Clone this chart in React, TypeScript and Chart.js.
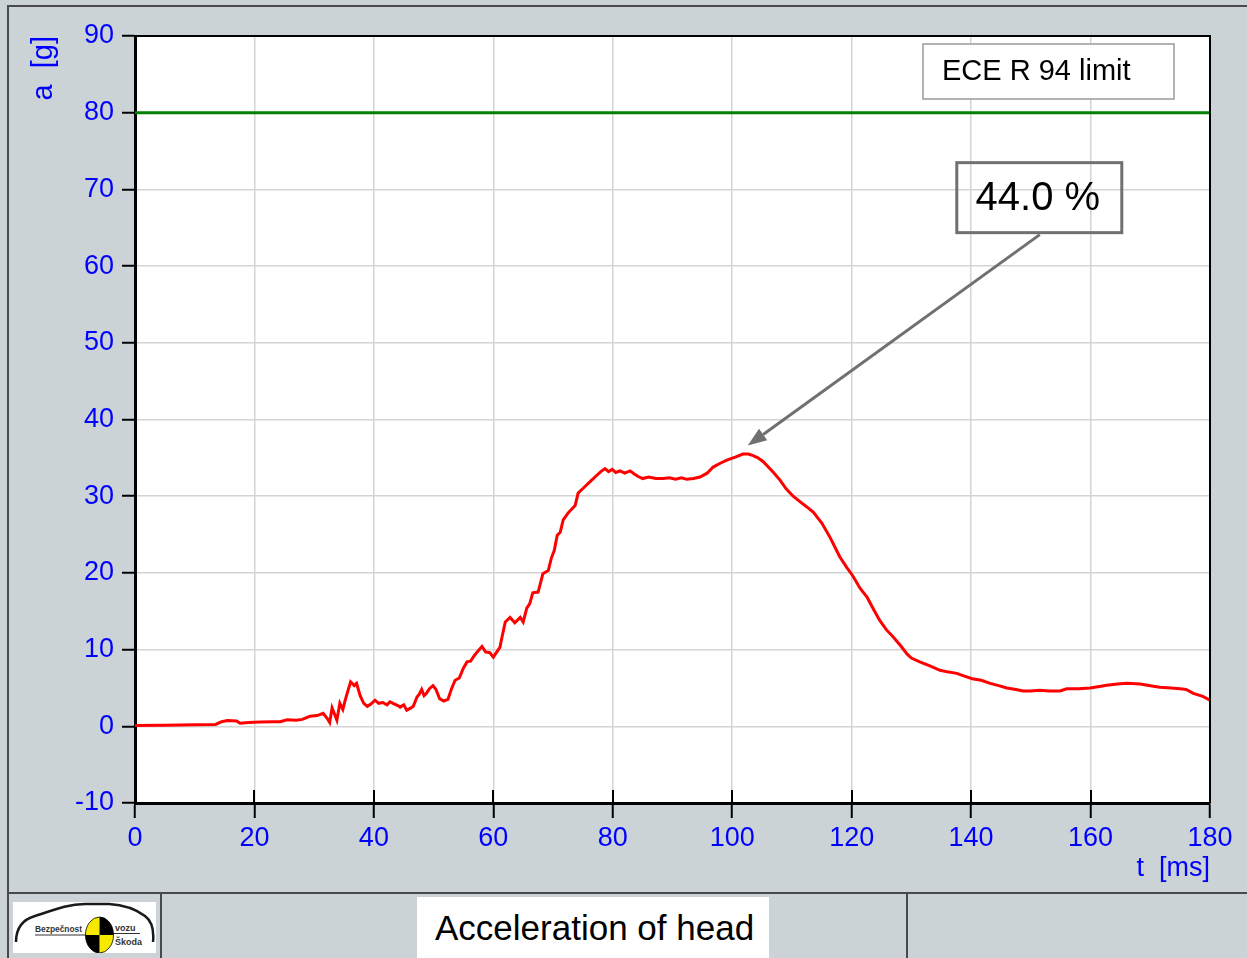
import React, { useEffect, useRef } from "react";
import { Chart, registerables } from "chart.js";

Chart.register(...registerables);

// ---- data ----
const TIME_MS = [
  0, 5, 10, 13.5, 14.5, 15.5, 17, 17.6, 19, 21, 23, 24.3, 25.5, 27, 28, 29.3, 30.5, 31.5, 32.3, 32.6,
  33, 33.5, 33.8, 34.3, 34.8, 35.2, 35.6, 36.1, 36.7, 37.1, 37.7, 38.3, 38.9, 39.5, 40.2, 40.8, 41.5,
  42.2, 42.7, 43.2, 44, 44.4, 45, 45.5, 46.2, 46.6, 47.2, 47.6, 48, 48.4, 48.8, 49.3, 49.9, 50.4, 51,
  51.7, 52.4, 53, 53.6, 54.3, 55, 55.6, 56.2, 56.8, 57.3, 58.1, 58.7, 59.4, 60, 60.5, 61.1, 61.5, 62,
  62.8, 63.6, 64.5, 65, 65.6, 66.1, 66.6, 67.5, 68.3, 69.2, 69.7, 70.2, 70.7, 71.2, 71.7, 72.5, 73.7,
  74.2, 75, 76.2, 77.3, 78, 78.7, 79.3, 79.9, 80.5, 81.2, 82, 82.9, 83.6, 84.2, 85, 86, 87.2, 88.4,
  89.5, 90.5, 91.5, 92.4, 93.5, 94.6, 95.8, 96.8, 98, 99.1, 100.5, 101.8, 102.7, 103.5, 104.3, 105.2,
  106.8, 108, 109, 110.2, 111.5, 112.5, 113.6, 115, 116.4, 118, 119.2, 120.2, 121.4, 122.6, 123.7,
  124.7, 125.8, 127, 128.2, 129.3, 130, 131.4, 133, 134.8, 136, 137.6, 139, 140.2, 141.7, 143.2,
  144.6, 146, 147.5, 148.7, 150, 151.5, 153, 154.9, 156, 158, 159.9, 161.5, 162.7, 164.5, 166.1,
  168.3, 170, 171.6, 173.5, 175, 176, 177.2, 178.8, 180,
];
const ACCEL_G = [
  0.1, 0.15, 0.2, 0.25, 0.6, 0.75, 0.7, 0.4, 0.5, 0.55, 0.6, 0.6, 0.85, 0.8, 0.9, 1.3, 1.4, 1.7, 0.9, 0.5,
  2.4, 1.4, 0.8, 3.0, 2.2, 3.4, 4.5, 5.8, 5.3, 5.6, 4.0, 3.0, 2.6, 2.9, 3.4, 3.0, 3.1,
  2.8, 3.2, 3.0, 2.7, 2.5, 2.8, 2.1, 2.4, 2.6, 3.8, 4.2, 4.8, 4.0, 4.3, 4.9, 5.3, 4.8, 3.6,
  3.3, 3.5, 4.9, 6.0, 6.3, 7.6, 8.4, 8.5, 9.2, 9.7, 10.4, 9.7, 9.6, 9.0, 9.6, 10.3, 11.8, 13.6,
  14.2, 13.5, 14.2, 13.6, 15.4, 16.0, 17.4, 17.5, 19.9, 20.3, 21.9, 22.9, 24.9, 25.3, 26.9, 27.8, 28.8,
  30.4, 31.0, 31.9, 32.7, 33.2, 33.6, 33.2, 33.5, 33.1, 33.3, 33.0, 33.3, 32.9, 32.6, 32.3, 32.5, 32.3, 32.3,
  32.4, 32.2, 32.4, 32.2, 32.3, 32.5, 33.0, 33.8, 34.3, 34.7, 35.1, 35.5, 35.5, 35.3, 35.0, 34.5,
  33.2, 32.1, 31.0, 30.0, 29.2, 28.6, 27.9, 26.5, 24.6, 22.1, 20.7, 19.6, 18.0, 16.8, 15.2,
  13.8, 12.6, 11.6, 10.5, 9.4, 8.9, 8.4, 7.9, 7.3, 7.1, 6.9, 6.5, 6.2, 6.0, 5.6,
  5.3, 5.0, 4.8, 4.6, 4.6, 4.7, 4.6, 4.6, 4.9, 4.9, 5.0, 5.2, 5.35, 5.5, 5.6,
  5.5, 5.3, 5.1, 5.0, 4.9, 4.8, 4.3, 3.9, 3.4,
];
const LIMIT_TIME_MS = [0, 180];
const LIMIT_G = [80, 80];
const X_RANGE = [0, 180];
const Y_RANGE = [-10, 90];
const X_STEP = 20;
const Y_STEP = 10;

const SERIES_LABEL = "Acceleration of head";
const LIMIT_LABEL = "ECE R 94 limit";
const PEAK_TEXT = "44.0 %";
const ARROW_TIP = { t: 102.6, a: 36.6 };
const ARROW_TAIL = { t: 151.5, a: 64.1 };
const X_TITLE = "t  [ms]";
const Y_TITLE = "a  [g]";

const FONT = "'Liberation Sans', Arial, Helvetica, sans-serif";
const BG = "#cbd3d7";

const decorPlugin = {
  id: "decor",
  beforeDraw(chart: any) {
    const { ctx, chartArea: a } = chart;
    ctx.save();
    ctx.fillStyle = "#ffffff";
    ctx.fillRect(a.left, a.top, a.right - a.left, a.bottom - a.top);
    ctx.restore();
  },
  afterDatasetsDraw(chart: any) {
    const { ctx, chartArea: a, scales } = chart;
    const xs = scales.x;
    const ys = scales.y;
    ctx.save();
    // top & right frame
    ctx.strokeStyle = "#000";
    ctx.lineWidth = 2;
    ctx.beginPath();
    ctx.moveTo(a.left, a.top);
    ctx.lineTo(a.right, a.top);
    ctx.lineTo(a.right, a.bottom);
    ctx.stroke();
    // inner x tick marks
    ctx.lineWidth = 2;
    xs.ticks.forEach((tk: any) => {
      const px = Math.round(xs.getPixelForValue(tk.value));
      ctx.beginPath();
      ctx.moveTo(px, a.bottom - 13);
      ctx.lineTo(px, a.bottom);
      ctx.stroke();
    });

    // legend box
    const lx = a.right - 287;
    const ly = a.top + 8;
    ctx.fillStyle = "#fff";
    ctx.fillRect(lx, ly, 251, 55);
    ctx.strokeStyle = "#9a9a9a";
    ctx.lineWidth = 1.5;
    ctx.strokeRect(lx, ly, 251, 55);
    ctx.fillStyle = "#000";
    ctx.font = `29px ${FONT}`;
    ctx.textBaseline = "middle";
    ctx.textAlign = "left";
    ctx.fillText(chart.data.datasets[1].label, lx + 19, ly + 28);

    // arrow
    const tx = xs.getPixelForValue(ARROW_TIP.t);
    const ty = ys.getPixelForValue(ARROW_TIP.a);
    const sx = xs.getPixelForValue(ARROW_TAIL.t);
    const sy = ys.getPixelForValue(ARROW_TAIL.a);
    const ang = Math.atan2(ty - sy, tx - sx);
    const hl = 19;
    const hw = 7;
    const bx = tx - hl * Math.cos(ang);
    const by = ty - hl * Math.sin(ang);
    ctx.strokeStyle = "#707070";
    ctx.fillStyle = "#707070";
    ctx.lineWidth = 3;
    ctx.beginPath();
    ctx.moveTo(sx, sy);
    ctx.lineTo(bx, by);
    ctx.stroke();
    ctx.beginPath();
    ctx.moveTo(tx, ty);
    ctx.lineTo(bx + hw * Math.sin(ang), by - hw * Math.cos(ang));
    ctx.lineTo(bx - hw * Math.sin(ang), by + hw * Math.cos(ang));
    ctx.closePath();
    ctx.fill();

    // peak box
    const bxC = sx;
    const byTop = sy - 72;
    ctx.strokeStyle = "#707070";
    ctx.lineWidth = 3;
    ctx.strokeRect(bxC - 83, byTop, 165, 70);
    ctx.fillStyle = "#000";
    ctx.font = `40px ${FONT}`;
    ctx.textAlign = "center";
    ctx.textBaseline = "middle";
    ctx.fillText(PEAK_TEXT, bxC - 2, byTop + 36);
    ctx.restore();
  },
};

function Logo() {
  return (
    <svg width={143} height={51} viewBox="0 0 143 51" style={{ display: "block" }}>
      <rect x={0} y={0} width={143} height={51} fill="#fff" />
      <path
        d="M3,40 C3,28 8,18 22,14 C36,10 52,2 72,2 L96,2 C112,3 124,8 132,14 C140,20 141,30 140,40"
        fill="none"
        stroke="#1a1a1a"
        strokeWidth={2.5}
      />
      <line x1={22} y1={33} x2={73} y2={33} stroke="#333" strokeWidth={1} />
      <line x1={100} y1={31.5} x2={127} y2={31.5} stroke="#333" strokeWidth={1} />
      <path d="M86.5,33 L72.5,33 A14,18 0 0 1 86.5,15 Z" fill="#f5ea00" />
      <path d="M86.5,33 L86.5,15 A14,18 0 0 1 100.5,33 Z" fill="#000" />
      <path d="M86.5,33 L100.5,33 A14,18 0 0 1 86.5,51 Z" fill="#f5ea00" />
      <path d="M86.5,33 L86.5,51 A14,18 0 0 1 72.5,33 Z" fill="#000" />
      <ellipse cx={86.5} cy={33} rx={14} ry={18} fill="none" stroke="#000" strokeWidth={0.8} />
      <text x={22} y={30} fontSize={9} fontWeight="bold" fontFamily={FONT} fill="#333" textLength={47} lengthAdjust="spacingAndGlyphs">
        Bezpečnost
      </text>
      <text x={102} y={29} fontSize={9} fontWeight="bold" fontFamily={FONT} fill="#333">
        vozu
      </text>
      <text x={102} y={43} fontSize={9} fontWeight="bold" fontFamily={FONT} fill="#333">
        Škoda
      </text>
    </svg>
  );
}

export default function App() {
  const ref = useRef<HTMLCanvasElement | null>(null);

  useEffect(() => {
    if (!ref.current) return;
    const font = { family: FONT, size: 27 };
    const titleFont = { family: FONT, size: 27 };
    const yTitleFont = { family: FONT, size: 29 };
    const chart = new Chart(ref.current, {
      type: "line",
      data: {
        datasets: [
          {
            label: SERIES_LABEL,
            data: TIME_MS.map((t, i) => ({ x: t, y: ACCEL_G[i] })),
            borderColor: "#ff0000",
            borderWidth: 3,
            pointRadius: 0,
            tension: 0,
            fill: false,
          },
          {
            label: LIMIT_LABEL,
            data: LIMIT_TIME_MS.map((t, i) => ({ x: t, y: LIMIT_G[i] })),
            borderColor: "#008000",
            borderWidth: 3,
            pointRadius: 0,
            fill: false,
          },
        ],
      },
      options: {
        animation: false,
        responsive: false,
        devicePixelRatio: 1,
        layout: { padding: { top: 36, right: 37, bottom: 0, left: 0 } },
        plugins: { legend: { display: false }, tooltip: { enabled: false } },
        scales: {
          x: {
            type: "linear",
            min: X_RANGE[0],
            max: X_RANGE[1],
            ticks: { stepSize: X_STEP, color: "#0000ff", font, padding: 4, maxRotation: 0, autoSkip: false },
            grid: { color: "#d4d4d4", lineWidth: 1.5, tickColor: "#000", tickLength: 15, tickWidth: 2 },
            border: { color: "#000", width: 3 },
            title: { display: true, text: X_TITLE, align: "end", color: "#0000ff", font: titleFont, padding: { top: 0, bottom: 5 } },
            afterFit: (s: any) => {
              s.height = 87;
            },
          },
          y: {
            type: "linear",
            min: Y_RANGE[0],
            max: Y_RANGE[1],
            ticks: { stepSize: Y_STEP, color: "#0000ff", font, padding: 8 },
            grid: { color: "#d4d4d4", lineWidth: 1.5, tickColor: "#000", tickLength: 13, tickWidth: 2 },
            border: { color: "#000", width: 3 },
            title: { display: true, text: Y_TITLE, align: "end", color: "#0000ff", font: yTitleFont, padding: { top: 27, bottom: 0 } },
            afterFit: (s: any) => {
              s.width = 135;
            },
          },
        },
      } as any,
      plugins: [decorPlugin],
    });
    return () => chart.destroy();
  }, []);

  const line = "#4a4a4a";
  return (
    <div
      style={{
        position: "absolute",
        left: 0,
        top: 0,
        width: 1247,
        height: 958,
        background: BG,
        overflow: "hidden",
        fontFamily: FONT,
      }}
    >
      <canvas ref={ref} width={1247} height={890} style={{ position: "absolute", left: 0, top: 0 }} />
      {/* outer frame */}
      <div style={{ position: "absolute", left: 7, top: 5, width: 1240, height: 2, background: line }} />
      <div style={{ position: "absolute", left: 7, top: 5, width: 2, height: 953, background: line }} />
      {/* footer */}
      <div style={{ position: "absolute", left: 7, top: 892, width: 1240, height: 2, background: line }} />
      <div style={{ position: "absolute", left: 160, top: 892, width: 2, height: 66, background: line }} />
      <div style={{ position: "absolute", left: 906, top: 892, width: 2, height: 66, background: line }} />
      <div style={{ position: "absolute", left: 13, top: 902 }}>
        <Logo />
      </div>
      <div
        style={{
          position: "absolute",
          left: 417,
          top: 897,
          width: 352,
          height: 61,
          background: "#fff",
          boxSizing: "border-box",
          paddingLeft: 18,
          fontSize: 35,
          lineHeight: "61px",
          color: "#000",
          whiteSpace: "nowrap",
        }}
      >
        {SERIES_LABEL}
      </div>
    </div>
  );
}
